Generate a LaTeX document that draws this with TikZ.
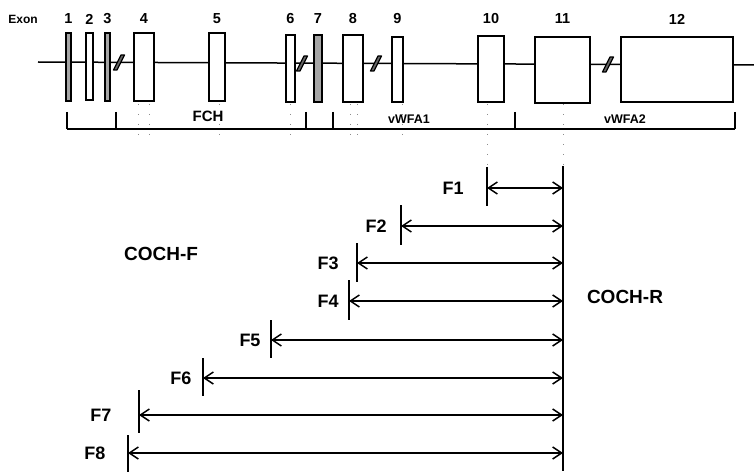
\documentclass[tikz,border=0pt]{standalone}
\usepackage{fontspec}
\setmainfont{Liberation Sans}
\usetikzlibrary{arrows.meta}
\begin{document}
\begin{tikzpicture}[x=1pt,y=-1pt,
  exonbox/.style={draw, line width=1.5pt, fill=white, inner sep=0pt, outer sep=0pt},
  thinexon/.style={exonbox, fill=black!35},
  numlbl/.style={font=\bfseries\fontsize{14.5}{15}\selectfont, inner sep=0pt},
  domlbl/.style={font=\bfseries\fontsize{12.5}{13}\selectfont, inner sep=0pt},
  flbl/.style={font=\bfseries\fontsize{18}{20}\selectfont, inner sep=0pt},
  cochlbl/.style={font=\bfseries\fontsize{19}{21}\selectfont, inner sep=0pt},
  gene/.style={line width=1.5pt},
  slashmark/.style={draw, fill=black!60, line width=1.2pt, line join=round},
  bracketline/.style={line width=1.8pt},
  tickline/.style={line width=1.8pt},
  farrow/.style={line width=1.5pt, {Straight Barb[length=9pt,width=12pt,line width=1.5pt]}-{Straight Barb[length=9pt,width=12pt,line width=1.5pt]}},
  guide/.style={black!45, line width=0.9pt, dash pattern=on 1pt off 9pt}]
\useasboundingbox (0,0) rectangle (754,473);

% gene line
\coordinate (gL) at (38,62);
\coordinate (gR) at (754,65);
\draw[gene] (gL) -- (gR);

% exons
\foreach \n/\xa/\xb/\ya/\yb/\st in {
  1/66/71/33/101/thinexon, 2/86/93/33/100/exonbox, 3/105/110/33/101/thinexon,
  4/134/154/33/101/exonbox, 5/209/225/33/101/exonbox, 6/286/295/35/102/exonbox,
  7/314/322/35/102/thinexon, 8/343/363/35/102/exonbox, 9/392/403/37/102/exonbox,
  10/478/504/36/102/exonbox, 11/535/590/37/103/exonbox, 12/621/733/37/102/exonbox}{
  \node[\st, minimum width={\xb-\xa}, minimum height={\yb-\ya}] (e\n) at ({(\xa+\xb)/2},{(\ya+\yb)/2}) {};
  \node[numlbl] (n\n) at (e\n.center |- 0,19) {\n};
}
\node[font=\bfseries\fontsize{12}{13}\selectfont, inner sep=0pt] (exonlbl) at (23,19) {Exon};

% break marks
\foreach \i/\x/\y in {1/119/62.5, 2/302/63.5, 3/376/63.5, 4/608/64.5}{
  \coordinate (s\i) at (\x,\y);
  \draw[slashmark, shift={(s\i)}] (-5.5,7.5) -- (-2,7.5) -- (5.5,-7.5) -- (2,-7.5) -- cycle;
}

% faint guides
\foreach \i/\x/\yb in {1/138/140, 2/149/140, 3/219/140, 4/290/140, 5/350/140, 6/357/140, 7/402/140, 8/487/166, 9/563/166}{
  \coordinate (gt\i) at (\x,104);
  \coordinate (gb\i) at (\x,\yb);
  \draw[guide] (gt\i) -- (gb\i);
}

% domain bracket
\foreach \i/\x in {1/67,2/116,3/306,4/333,5/515,6/735}{
  \coordinate (bb\i) at (\x,129);
  \coordinate (bt\i) at (\x,112);
  \draw[bracketline] (bt\i) -- (bb\i);
}
\draw[bracketline] (bb1) -- (bb6);
\node[domlbl, font=\bfseries\fontsize{15}{16}\selectfont] (fch) at (208,116) {FCH};
\node[domlbl] (vwfa1) at (409,119) {vWFA1};
\node[domlbl] (vwfa2) at (625,119) {vWFA2};

% reverse primer line
\coordinate (rt) at (563,166);
\coordinate (rb) at (563,471);
\draw[tickline] (rt) -- (rb);

% forward primers
\foreach \i/\x/\ta/\tb/\ay/\lx in {
  1/487/167/206/188/453, 2/401/205/245/226/376, 3/357/243/282/263/328,
  4/349/280/320/301/328, 5/271/320/358/340/250, 6/203/358/396/378/181,
  7/139/390/433/415/101, 8/128/435/472/453/95}{
  \coordinate (ta\i) at (\x,\ta);
  \coordinate (tb\i) at (\x,\tb);
  \coordinate (al\i) at (\x,\ay);
  \coordinate (ar\i) at (563,\ay);
  \draw[tickline] (ta\i) -- (tb\i);
  \draw[farrow] (al\i) -- (ar\i);
  \node[flbl] (f\i) at (\lx,\ay) {F\i};
}

\node[cochlbl] (cochf) at (161,254) {COCH-F};
\node[cochlbl] (cochr) at (625,297) {COCH-R};
\end{tikzpicture}
\end{document}
